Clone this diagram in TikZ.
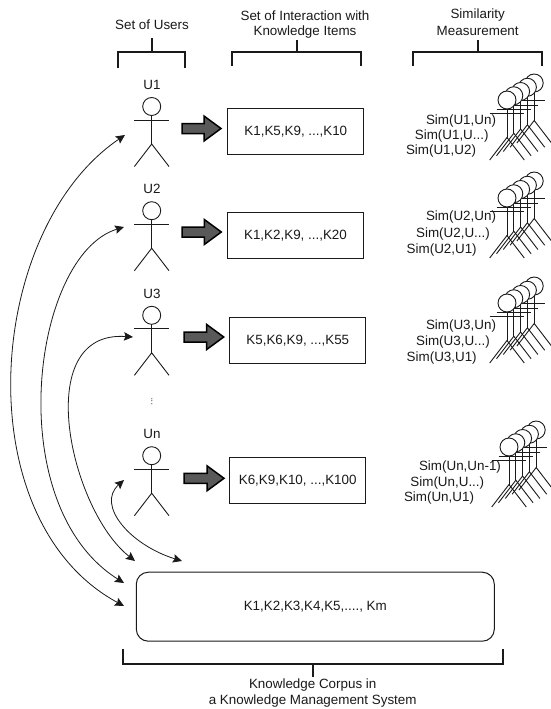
\documentclass[tikz,border=0pt]{standalone}
\usepackage{fontspec}
\setmainfont{Liberation Sans}
\usetikzlibrary{arrows.meta}
\definecolor{ink}{HTML}{1A1A1A}
\tikzset{
  lbl/.style={inner sep=0pt,text=ink,font=\fontsize{13.4}{16}\selectfont,align=center},
  kbox/.style={draw=ink,line width=1pt,fill=white,minimum width=136pt,minimum height=46pt,inner sep=0pt,text=ink,font=\fontsize{13.4}{16}\selectfont},
  corpus/.style={draw=ink,line width=1pt,fill=white,rounded corners=12pt,minimum width=358pt,minimum height=69pt,inner sep=0pt,text=ink,font=\fontsize{13.4}{16}\selectfont},
  bracketline/.style={draw=ink,line width=1.6pt},
  stick/.style={draw=ink,line width=0.9pt},
  curve/.style={draw=ink,line width=0.8pt,{Stealth[length=9pt,width=8.5pt,inset=1.5pt]}-{Stealth[length=9pt,width=8.5pt,inset=1.5pt]}},
  blockarrow/.style={draw=black,line width=1.5pt,fill=black!65,line join=miter}
}
% stick figure without arms: centre x, head centre y
\newcommand{\stickbody}[2]{%
  \draw[stick] (#1,#2+9) -- (#1,#2+37.5);
  \draw[stick] (#1-17.3,#2+60) -- (#1,#2+37.5) -- (#1+17.3,#2+60);
  \draw[stick,fill=white] (#1,#2) circle (9);
}
\newcommand{\stickarms}[2]{%
  \draw[stick] (#1-17.3,#2+13.5) -- (#1+17.3,#2+13.5);
}
\newcommand{\stickman}[2]{\stickarms{#1}{#2}\stickbody{#1}{#2}}
% row of similar figures: front head centre (the rearmost shows no arms)
\newcommand{\simrow}[2]{%
  \pgfmathsetmacro{\fx}{#1+6.8*4}%
  \pgfmathsetmacro{\fy}{#2-4.25*4}%
  \stickbody{\fx}{\fy}%
  \foreach \k in {3,2,1,0}{%
    \pgfmathsetmacro{\fx}{#1+6.8*\k}%
    \pgfmathsetmacro{\fy}{#2-4.25*\k}%
    \stickman{\fx}{\fy}%
  }%
}
% block arrow: left x, tip x, centre y
\newcommand{\blockarr}[3]{%
  \draw[blockarrow] (#1,#3-5) -- (#2-17,#3-5) -- (#2-17,#3-12.5) -- (#2,#3)
    -- (#2-17,#3+12.5) -- (#2-17,#3+5) -- (#1,#3+5) -- cycle;
}
% bracket: left, right, top of the tips, bar y, stem x, stem end y
\newcommand{\brk}[6]{%
  \draw[bracketline,line join=miter] (#1,#3) -- (#1,#4) -- (#2,#4) -- (#2,#3);
  \draw[bracketline] (#5,#4) -- (#5,#6);
}
\begin{document}
\begin{tikzpicture}[x=1pt,y=-1pt]
\useasboundingbox (0,0) rectangle (550,709);
\fill[white] (0,0) rectangle (550,709);

% headings
\node[lbl] (hUsers) at (152,25) {Set of Users};
\node[lbl] (hInter1) at (305,16) {Set of Interaction with};
\node[lbl] (hInter2) at (305,32) {Knowledge Items};
\node[lbl] (hSim1) at (477.7,15) {Similarity};
\node[lbl] (hSim2) at (477.7,31) {Measurement};
\brk{118}{185}{68}{52}{151.7}{38}
\brk{232}{361}{66}{52}{297}{40}
\brk{413}{542}{66}{52}{477.7}{40}

% users
\node[lbl] (lU1) at (152,85) {U1};
\node[lbl] (lU2) at (152,189) {U2};
\node[lbl] (lU3) at (152,294) {U3};
\node[lbl] (lUn) at (152,434) {Un};
\stickman{151.7}{106.5}
\stickman{151.7}{210.7}
\stickman{151.7}{315.3}
\stickman{151.7}{455.7}
\node[lbl,font=\fontsize{9}{10}\selectfont] (dots) at (152,401.5) {\rotatebox{90}{...}};

% block arrows
\blockarr{182}{221}{128.5}
\blockarr{182}{221.3}{232}
\blockarr{184}{223.7}{337}
\blockarr{184}{224}{478.3}

% interaction boxes
\node[kbox] (k1) at (295.8,131.8) {K1,K5,K9, ...,K10};
\node[kbox] (k2) at (295.5,235.7) {K1,K2,K9, ...,K20};
\node[kbox] (k3) at (297.8,340.3) {K5,K6,K9, ...,K55};
\node[kbox] (kn) at (297.7,480.8) {K6,K9,K10, ...,K100};

% similarity figures
\simrow{507}{100}
\simrow{507}{198}
\simrow{507}{303}
\simrow{509}{447}

\node[lbl] (s11) at (461,120.7) {Sim(U1,Un)};
\node[lbl] (s12) at (451.7,136) {Sim(U1,U...)};
\node[lbl] (s13) at (441,151) {Sim(U1,U2)};
\node[lbl] (s21) at (461,216.7) {Sim(U2,Un)};
\node[lbl] (s22) at (453,234) {Sim(U2,U...)};
\node[lbl] (s23) at (441.7,250) {Sim(U2,U1)};
\node[lbl] (s31) at (461,325.7) {Sim(U3,Un)};
\node[lbl] (s32) at (453,342) {Sim(U3,U...)};
\node[lbl] (s33) at (441.7,358) {Sim(U3,U1)};
\node[lbl] (s41) at (460,467) {Sim(Un,Un-1)};
\node[lbl] (s42) at (447.3,483) {Sim(Un,U...)};
\node[lbl] (s43) at (439,498) {Sim(Un,U1)};

% corpus
\node[corpus] (corpus) at (315.3,606.7) {K1,K2,K3,K4,K5,...., Km};
\brk{122.7}{503}{649}{664}{312.7}{677}
\node[lbl] (c1) at (312.7,685) {Knowledge Corpus in};
\node[lbl] (c2) at (312.7,701.5) {a Knowledge Management System};

% double-headed curves
\coordinate (t1) at (125,135);
\coordinate (t2) at (124,227);
\coordinate (t3) at (133,337);
\coordinate (t4) at (124,480);
\coordinate (e1) at (124,606);
\coordinate (e2) at (124,583);
\coordinate (e3) at (135,561);
\coordinate (e4) at (182,561);
\draw[curve] (t1) .. controls (-15,230) and (-35,520) .. (e1);
\draw[curve] (t2) .. controls (32,255) and (0,505) .. (e2);
\draw[curve] (t3) .. controls (30,330) and (70,510) .. (e3);
\draw[curve] (t4) .. controls (96,505) and (130,545) .. (e4);
\end{tikzpicture}
\end{document}
